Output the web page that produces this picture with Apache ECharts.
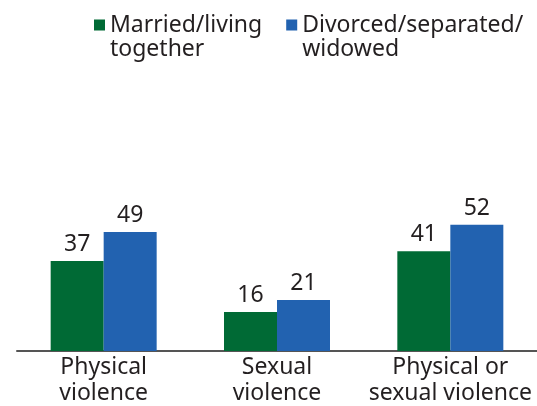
<!DOCTYPE html>
<html>
<head>
    <meta charset="utf-8">
    <title>Violence by marital status</title>
    <script src="https://cdn.jsdelivr.net/npm/echarts@6/dist/echarts.min.js"></script>
    <style>
        html, body { margin: 0; padding: 0; background: #fff; }
        #chart { width: 537px; height: 406px; }
    </style>
</head>
<body>
    <div id="chart"></div>

    <script>
        var categories = ['Physical\nviolence', 'Sexual\nviolence', 'Physical or\nsexual violence'];
        var seriesNames = ['Married/living\ntogether', 'Divorced/separated/\nwidowed'];
        var married = [37, 16, 41];
        var divorced = [49, 21, 52];

        var font = '"Noto Sans", sans-serif';
        var ink = '#231f20';

        // square sitting at the top of a taller box, so it lines up with the first text line
        var topSquare = 'path://M0,0L10,0L10,10L0,10Z M0,31.8L0.01,31.8L0.01,31.81Z';

        var labelStyle = {
            show: true,
            position: 'top',
            distance: 5,
            fontFamily: font,
            fontSize: 23,
            color: ink
        };

        var chart = echarts.init(document.getElementById('chart'));
        chart.setOption({
            animation: false,
            color: ['#006a35', '#2262b0'],
            legend: {
                left: 94,
                top: 13,
                padding: 0,
                itemWidth: 11,
                itemHeight: 35,
                itemGap: 24,
                icon: topSquare,
                textStyle: {
                    fontFamily: font,
                    fontSize: 23,
                    lineHeight: 24,
                    color: ink
                },
                data: seriesNames
            },
            grid: {
                left: 17,
                right: 0,
                top: 108,
                bottom: 55,
                containLabel: false
            },
            xAxis: {
                type: 'category',
                data: categories,
                axisLine: { lineStyle: { color: '#555', width: 2 } },
                axisTick: { show: false },
                axisLabel: {
                    margin: 3,
                    fontFamily: font,
                    fontSize: 23,
                    lineHeight: 26,
                    color: ink,
                    interval: 0
                }
            },
            yAxis: {
                type: 'value',
                min: 0,
                max: 100,
                show: false,
                splitLine: { show: false }
            },
            series: [{
                name: seriesNames[0],
                type: 'bar',
                data: married,
                barWidth: 53,
                barGap: '0%',
                label: labelStyle
            }, {
                name: seriesNames[1],
                type: 'bar',
                data: divorced,
                barWidth: 53,
                barGap: '0%',
                label: labelStyle
            }]
        });
    </script>
</body>
</html>
